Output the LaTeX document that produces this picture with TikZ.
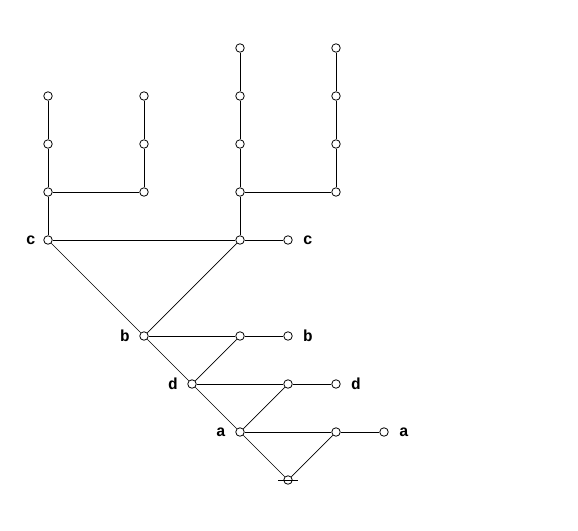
\documentclass[tikz,border=0pt]{standalone}
\usepackage{fontspec}
\newfontfamily\courfont{Liberation Mono}
\begin{document}
\begin{tikzpicture}[x=1pt,y=-1pt,
  v/.style={circle,draw,fill=white,inner sep=0pt,minimum size=8.5pt,line width=0.8pt},
  lbl/.style={font=\fontsize{16}{16}\courfont\bfseries\selectfont,inner sep=0pt},
  e/.style={line width=0.7pt}]
\useasboundingbox (0,0) rectangle (578,530);
% nodes
\node[v] (a1) at (48,96) {};
\node[v] (a2) at (48,144) {};
\node[v] (a3) at (48,192) {};
\node[v] (c1) at (48,240) {};
\node[v] (b1) at (144,96) {};
\node[v] (b2) at (144,144) {};
\node[v] (b3) at (144,192) {};
\node[v] (d0) at (240,48) {};
\node[v] (d1) at (240,96) {};
\node[v] (d2) at (240,144) {};
\node[v] (d3) at (240,192) {};
\node[v] (c2) at (240,240) {};
\node[v] (f0) at (336,48) {};
\node[v] (f1) at (336,96) {};
\node[v] (f2) at (336,144) {};
\node[v] (f3) at (336,192) {};
\node[v] (c3) at (288,240) {};
\node[v] (p1) at (144,336) {};
\node[v] (p2) at (240,336) {};
\node[v] (p3) at (288,336) {};
\node[v] (q1) at (192,384) {};
\node[v] (q2) at (288,384) {};
\node[v] (q3) at (336,384) {};
\node[v] (r1) at (240,432) {};
\node[v] (r2) at (336,432) {};
\node[v] (r3) at (384,432) {};
\node[v] (z) at (288,480) {};
\coordinate (zl) at (278,480);
\coordinate (zr) at (298,480);
% labels
\node[lbl] (lc1) at (31,240) {c};
\node[lbl] (lc3) at (308,240) {c};
\node[lbl] (lp1) at (125,336) {b};
\node[lbl] (lp3) at (308,336) {b};
\node[lbl] (lq1) at (173,384) {d};
\node[lbl] (lq3) at (356,384) {d};
\node[lbl] (lr1) at (221,432) {a};
\node[lbl] (lr3) at (404,432) {a};
% edges
\draw[e] (a1)--(a2)--(a3)--(c1);
\draw[e] (b1)--(b2)--(b3);
\draw[e] (a3)--(b3);
\draw[e] (d0)--(d1)--(d2)--(d3)--(c2);
\draw[e] (f0)--(f1)--(f2)--(f3);
\draw[e] (d3)--(f3);
\draw[e] (c1)--(c2)--(c3);
\draw[e] (c1)--(p1);
\draw[e] (c2)--(p1);
\draw[e] (p1)--(p2)--(p3);
\draw[e] (p1)--(q1)--(r1)--(z);
\draw[e] (p2)--(q1);
\draw[e] (q1)--(q2)--(q3);
\draw[e] (q2)--(r1);
\draw[e] (r1)--(r2)--(r3);
\draw[e] (r2)--(z);
\draw[e] (zl)--(zr);
\end{tikzpicture}
\end{document}
